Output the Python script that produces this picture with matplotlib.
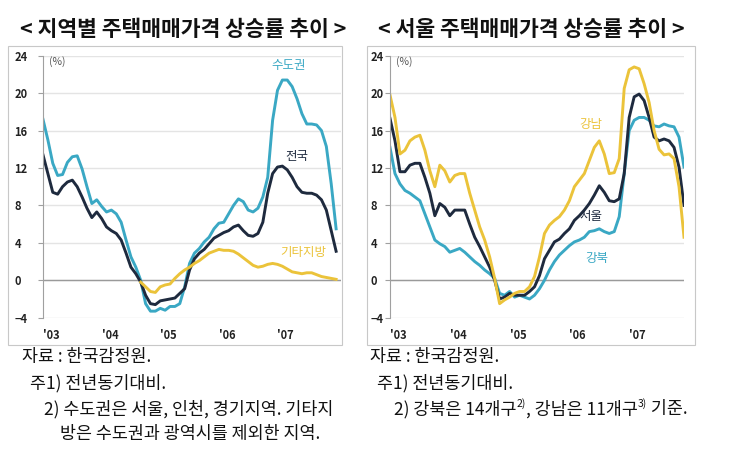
import numpy as np
import matplotlib
matplotlib.use("Agg")
import matplotlib.pyplot as plt
from matplotlib.patches import Rectangle

plt.rcParams['font.family'] = ['Noto Sans CJK KR', 'DejaVu Sans']

# monthly, Jan 2003 ~
years = ["'03", "'04", "'05", "'06", "'07"]

sudo = [17.2, 15.0, 12.5, 11.2, 11.3, 12.6, 13.2, 13.3, 11.9, 10.0,
        8.2, 8.6, 7.9, 7.3, 7.5, 7.1, 6.2, 4.3, 2.5, 1.4,
        0.0, -2.5, -3.3, -3.3, -3.0, -3.2, -2.8, -2.8, -2.5, -0.7,
        1.8, 2.9, 3.4, 4.1, 4.6, 5.5, 6.1, 6.2, 7.1, 8.0,
        8.7, 8.4, 7.5, 7.3, 7.7, 8.9, 11.0, 17.1, 20.3, 21.4,
        21.4, 20.7, 19.4, 17.8, 16.7, 16.7, 16.6, 16.0, 14.3, 10.3, 5.5]
jeonguk = [13.4, 11.4, 9.4, 9.2, 10.0, 10.5, 10.7, 10.0, 8.9, 7.7,
           6.7, 7.3, 6.6, 5.7, 5.3, 5.0, 4.3, 2.9, 1.4, 0.7,
           -0.2, -1.6, -2.5, -2.6, -2.2, -2.1, -2.0, -1.9, -1.4, -0.9,
           1.1, 2.3, 2.9, 3.3, 3.9, 4.5, 4.8, 5.1, 5.3, 5.7,
           5.9, 5.3, 4.8, 4.7, 5.0, 6.2, 9.3, 11.4, 12.1, 12.2,
           11.8, 11.0, 10.0, 9.4, 9.3, 9.3, 9.1, 8.6, 7.5, 5.3, 3.1]
gita = [None] * 20 + [
        -0.2, -0.7, -1.2, -1.3, -0.7, -0.5, -0.4, 0.2, 0.7, 1.1,
        1.4, 1.8, 2.1, 2.5, 2.9, 3.1, 3.3, 3.2, 3.2, 3.1,
        2.8, 2.4, 2.0, 1.6, 1.4, 1.5, 1.7, 1.8, 1.7, 1.5,
        1.2, 0.9, 0.8, 0.7, 0.8, 0.8, 0.6, 0.4, 0.3, 0.2, 0.1]

gangnam = [19.8, 17.4, 13.5, 13.9, 14.9, 15.3, 15.5, 13.9, 11.7, 10.0,
           12.3, 11.7, 10.5, 11.2, 11.4, 11.4, 9.3, 7.5, 5.7, 4.3,
           2.5, 0.2, -2.5, -2.1, -1.8, -1.4, -1.2, -1.2, -0.7, 0.4,
           2.5, 5.0, 5.9, 6.4, 6.8, 7.5, 8.5, 10.0, 10.7, 11.4,
           12.8, 14.2, 14.9, 13.5, 11.4, 11.5, 13.0, 20.5, 22.5, 22.8,
           22.6, 21.0, 19.0, 16.0, 14.0, 13.4, 13.5, 13.0, 10.0, 4.6]
seoul = [17.3, 14.9, 11.6, 11.6, 12.3, 12.5, 12.5, 11.0, 9.3, 6.9,
         8.2, 7.8, 6.9, 7.5, 7.5, 7.5, 6.0, 4.6, 3.6, 2.5,
         1.4, 0.0, -2.0, -1.8, -1.4, -1.6, -1.6, -1.6, -1.2, -0.7,
         0.5, 2.3, 3.2, 4.1, 4.4, 5.0, 5.5, 6.4, 6.9, 7.5,
         8.2, 9.1, 10.1, 9.4, 8.5, 8.4, 8.7, 11.4, 17.4, 19.6,
         19.9, 19.2, 17.4, 15.3, 14.9, 15.1, 14.9, 14.2, 12.1, 8.0]
gangbuk = [14.2, 11.4, 10.3, 9.6, 9.3, 8.9, 8.5, 7.1, 5.7, 4.3,
           3.9, 3.6, 3.0, 3.2, 3.4, 3.0, 2.5, 2.0, 1.6, 1.1,
           0.7, 0.2, -1.4, -1.6, -1.2, -1.8, -1.6, -1.8, -2.0, -1.6,
           -0.9, 0.0, 1.1, 2.0, 2.7, 3.2, 3.7, 4.1, 4.3, 4.6,
           5.2, 5.3, 5.5, 5.2, 5.0, 5.2, 6.8, 11.4, 16.0, 17.1,
           17.4, 17.4, 17.1, 16.5, 16.4, 16.7, 16.5, 16.4, 15.3, 12.1]

CYAN = '#3AA8C4'
NAVY = '#1E2A3E'
YELLOW = '#EBC33A'

W, H = 740, 457
fig = plt.figure(figsize=(W / 100, H / 100), dpi=100)


def px(x0, y0, x1, y1):
    # pixel box -> figure fraction [l, b, w, h]
    return [x0 / W, 1 - y1 / H, (x1 - x0) / W, (y1 - y0) / H]


def setup(ax, n, label_pad):
    ax.set_xlim(0, n)
    ax.set_ylim(-4, 24)
    ax.set_yticks(range(-4, 25, 4))
    ax.set_xticks([0, 12, 24, 36, 48])
    ax.set_xticklabels(years)
    for s in ['top', 'right', 'bottom']:
        ax.spines[s].set_visible(False)
    ax.spines['left'].set_color('#A0A0A0')
    ax.spines['left'].set_linewidth(0.8)
    ax.grid(axis='y', color='#E4E4E4', lw=1)
    ax.set_axisbelow(True)
    ax.axhline(0, color='#9A9A9A', lw=1, zorder=1)
    ax.tick_params(axis='y', length=3.5, color='#A0A0A0', pad=label_pad,
                   labelsize=8, labelcolor='#222222')
    ax.tick_params(axis='x', length=0, pad=8, labelsize=8, labelcolor='#222222')
    for t in ax.get_yticklabels():
        t.set_ha('left')
        t.set_fontweight('bold')
    for t in ax.get_xticklabels():
        t.set_ha('left')
        t.set_fontweight('bold')
    ax.text(1.3, 23.4, '(%)', fontsize=7.5, color='#555555', va='center')


# left panel
ax1 = fig.add_axes(px(43, 55.7, 341, 317.7))
x1 = np.arange(len(sudo))
ax1.plot(x1, sudo, color=CYAN, lw=2.1)
ax1.plot(x1, jeonguk, color=NAVY, lw=2.1)
ax1.plot(x1, np.array(gita, dtype=float), color=YELLOW, lw=2.1)
setup(ax1, 61, 17)
ax1.text(50.3, 23.0, '수도권', color=CYAN, fontsize=9, ha='center', va='center')
ax1.text(52.0, 13.2, '전국', color=NAVY, fontsize=9, ha='center', va='center')
ax1.text(53.3, 3.0, '기타지방', color=YELLOW, fontsize=9, ha='center', va='center')

# right panel
ax2 = fig.add_axes(px(390, 55.7, 684, 317.7))
x2 = np.arange(len(gangnam))
ax2.plot(x2, gangbuk, color=CYAN, lw=2.1)
ax2.plot(x2, seoul, color=NAVY, lw=2.1)
ax2.plot(x2, gangnam, color=YELLOW, lw=2.1)
setup(ax2, 59, 10.5)
ax2.text(40.3, 16.7, '강남', color=YELLOW, fontsize=9, ha='center', va='center')
ax2.text(40.3, 6.8, '서울', color=NAVY, fontsize=9, ha='center', va='center')
ax2.text(41.5, 2.3, '강북', color=CYAN, fontsize=9, ha='center', va='center')

# panel frames
for x0, x1_ in [(8, 342), (367, 695)]:
    fig.add_artist(Rectangle((x0 / W, 1 - 345 / H), (x1_ - x0) / W, (345 - 46) / H,
                             transform=fig.transFigure, fill=False,
                             edgecolor='#C8C8C8', lw=0.8))

# titles
fig.text(183 / W, 1 - 30 / H, '< 지역별 주택매매가격 상승률 추이 >', fontsize=15.5,
         fontweight='bold', ha='center', va='center', color='#111111')
fig.text(531 / W, 1 - 30 / H, '< 서울 주택매매가격 상승률 추이 >', fontsize=15.5,
         fontweight='bold', ha='center', va='center', color='#111111')

# notes
cap = dict(fontsize=12.5, va='center', color='#111111')
fig.text(22 / W, 1 - 357 / H, '자료 : 한국감정원.', **cap)
fig.text(30 / W, 1 - 383 / H, '주1) 전년동기대비.', **cap)
fig.text(44 / W, 1 - 409 / H, '2) 수도권은 서울, 인천, 경기지역. 기타지', **cap)
fig.text(60 / W, 1 - 434 / H, '방은 수도권과 광역시를 제외한 지역.', **cap)
fig.text(370 / W, 1 - 357 / H, '자료 : 한국감정원.', **cap)
fig.text(377 / W, 1 - 383 / H, '주1) 전년동기대비.', **cap)

# line with superscripts
renderer = fig.canvas.get_renderer()
xpos = 394
pieces = [('2) 강북은 14개구', False), ('2)', True), (', 강남은 11개구', False),
          ('3)', True), (' 기준.', False)]
for s, sup in pieces:
    if sup:
        t = fig.text(xpos / W, 1 - 404 / H, s, fontsize=7.5, va='center', color='#111111')
    else:
        t = fig.text(xpos / W, 1 - 409 / H, s, **cap)
    bb = t.get_window_extent(renderer)
    xpos += bb.width

fig.savefig('out.png', dpi=100)
